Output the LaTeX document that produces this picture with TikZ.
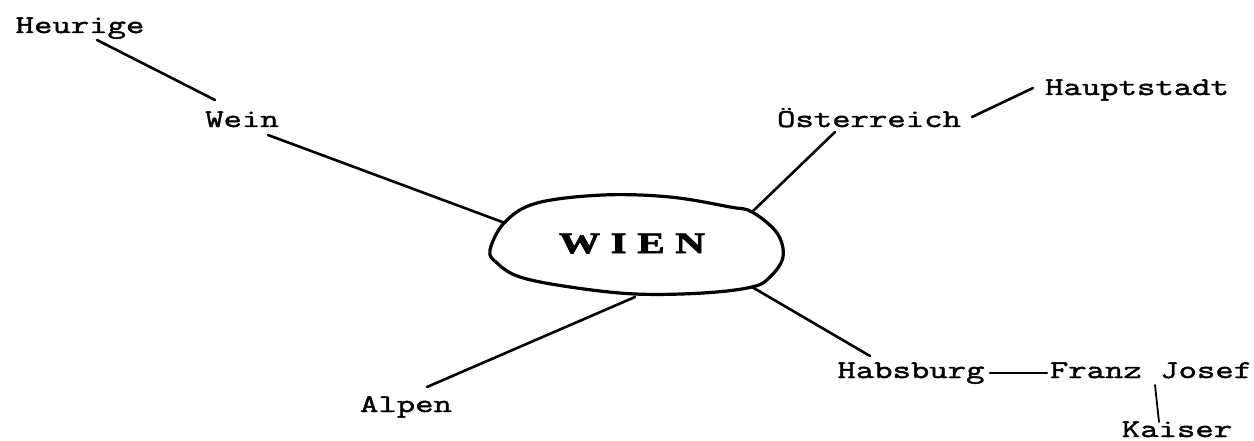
\documentclass[tikz,border=0pt]{standalone}
\usepackage{fontspec}
\newfontfamily\typew[FakeStretch=1.4,FakeBold=1.8]{Latin Modern Mono}
\newfontfamily\wienfont[FakeStretch=1.4,FakeBold=2.5]{Liberation Serif Bold}
\begin{document}
\begin{tikzpicture}[x=1pt,y=-1pt,
  lbl/.style={anchor=base,inner sep=0pt,font=\typew\fontsize{25.5}{30}\selectfont},
  conn/.style={line width=2.6pt,line cap=round},
  blob/.style={line width=3.2pt,line join=round}]
\useasboundingbox (0,0) rectangle (1254,441);
% center
\node[anchor=base,inner sep=0pt,font=\wienfont\fontsize{29.5}{32}\selectfont] (wien) at (632,253) {W\kern10.5pt I\kern10.5pt E\kern10.5pt N};
\draw[blob] plot[smooth cycle,tension=0.6] coordinates {
  (490,250) (505,222) (537,203) (603,195) (670,197) (730,207) (752,212)
  (777,233) (783,257) (770,277) (752,287) (703,293) (635,294) (570,287)
  (520,277) (497,263)};
% labels
\node[lbl] (heurige) at (80,33) {Heurige};
\node[lbl] (wein) at (242,127) {Wein};
\node[lbl] (oest) at (869,127) {Österreich};
\node[lbl] (haupt) at (1137,95) {Hauptstadt};
\node[lbl] (habs) at (911,378) {Habsburg};
\node[lbl] (franz) at (1151,378) {Franz Josef};
\node[lbl] (kaiser) at (1177,437) {Kaiser};
\node[lbl] (alpen) at (406,412) {Alpen};
% connectors
\draw[conn] ([shift={(17,7)}]heurige.base) -- ([shift={(-27,-27)}]wein.base);
\draw[conn] ([shift={(26,8)}]wein.base) -- ([shift={(-127,-30)}]wien.base);
\draw[conn] ([shift={(120,-41)}]wien.base) -- ([shift={(-34,5)}]oest.base);
\draw[conn] ([shift={(103,-10)}]oest.base) -- ([shift={(-104,-7)}]haupt.base);
\draw[conn] ([shift={(120,34)}]wien.base) -- ([shift={(-41,-22)}]habs.base);
\draw[conn] ([shift={(79,-5)}]habs.base) -- ([shift={(-104,-5)}]franz.base);
\draw[conn,line width=1.8pt] ([shift={(4,7)}]franz.base) -- ([shift={(-18,-15)}]kaiser.base);
\draw[conn] ([shift={(3,44)}]wien.base) -- ([shift={(21,-25)}]alpen.base);
\end{tikzpicture}
\end{document}
